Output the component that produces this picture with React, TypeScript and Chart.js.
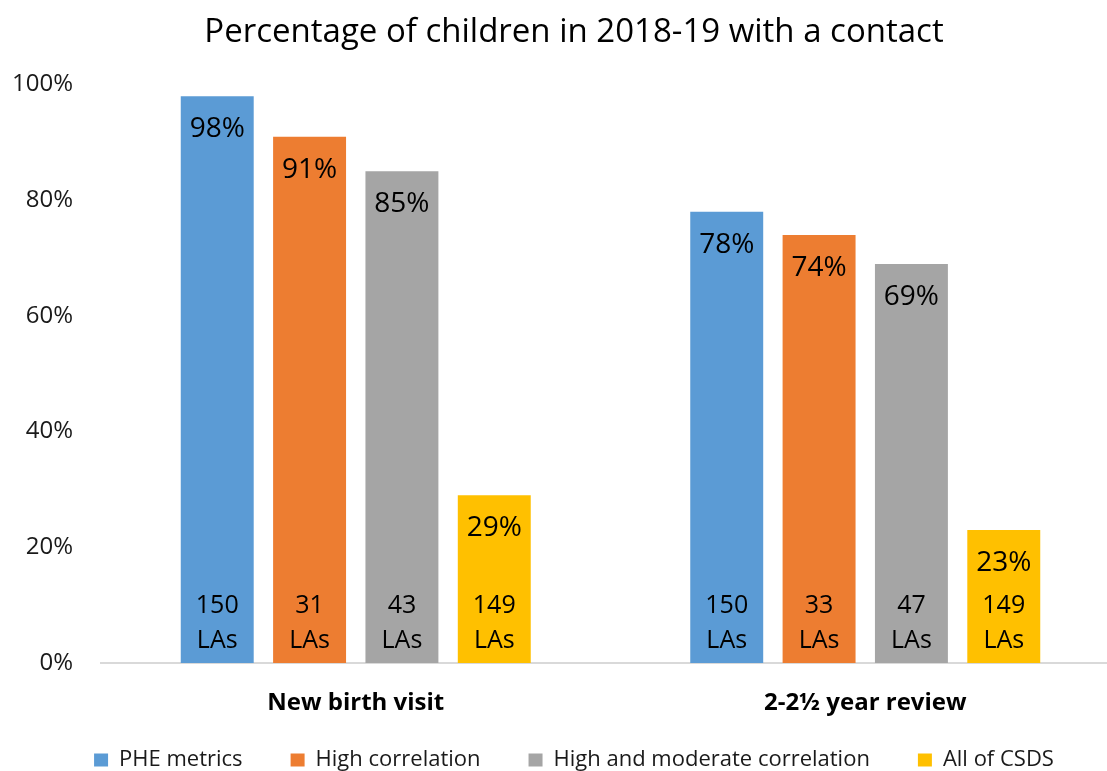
import React, { useEffect, useRef } from 'react';
import { Chart, registerables } from 'chart.js';

Chart.register(...registerables);

const titleText = 'Percentage of children in 2018-19 with a contact';
const categories = ['New birth visit', '2-2½ year review'];
const seriesNames = ['PHE metrics', 'High correlation', 'High and moderate correlation', 'All of CSDS'];
const pheMetrics = [98, 78];
const highCorrelation = [91, 74];
const highModerate = [85, 69];
const allCsds = [29, 23];
const pheLAs = [150, 150];
const highLAs = [31, 33];
const highModLAs = [43, 47];
const allLAs = [149, 149];
const yMin = 0;
const yMax = 100;
const yStep = 20;
const colors = ['#5B9BD5', '#ED7D31', '#A5A5A5', '#FFC000'];

const FONT = '"Open Sans", "DejaVu Sans", sans-serif';

const barLabelPlugin = {
  id: 'barLabels',
  afterDatasetsDraw(chart: any) {
    const ctx = chart.ctx;
    ctx.save();
    ctx.fillStyle = '#000000';
    ctx.textAlign = 'center';
    ctx.textBaseline = 'middle';
    chart.data.datasets.forEach((ds: any, di: number) => {
      const meta = chart.getDatasetMeta(di);
      meta.data.forEach((bar: any, i: number) => {
        const { x, y, base } = bar.getProps(['x', 'y', 'base'], true);
        ctx.font = `28px ${FONT}`;
        ctx.fillText(`${ds.data[i]}%`, x, y + 33);
        ctx.font = `25px ${FONT}`;
        ctx.fillText(String(ds.las[i]), x, base - 57);
        ctx.fillText('LAs', x, base - 22);
      });
    });
    ctx.restore();
  },
};

export default function App() {
  const canvasRef = useRef<HTMLCanvasElement | null>(null);

  useEffect(() => {
    if (!canvasRef.current) return;
    const values = [pheMetrics, highCorrelation, highModerate, allCsds];
    const las = [pheLAs, highLAs, highModLAs, allLAs];
    const chart = new Chart(canvasRef.current, {
      type: 'bar',
      data: {
        labels: categories,
        datasets: seriesNames.map((name, i) => ({
          label: name,
          data: values[i],
          las: las[i],
          backgroundColor: colors[i],
          borderWidth: 0,
          barPercentage: 0.79,
          categoryPercentage: 0.725,
        })) as any,
      },
      options: {
        responsive: false,
        animation: false,
        layout: { padding: { left: 28, right: 28, top: 0, bottom: 0 } },
        plugins: {
          title: {
            display: true,
            text: titleText,
            color: '#000000',
            font: { family: FONT, size: 33, weight: 'normal' },
            padding: { top: 13, bottom: 32 },
          },
          legend: {
            display: true,
            position: 'bottom',
            labels: {
              boxWidth: 14,
              boxHeight: 13,
              padding: 48,
              color: '#1a1a1a',
              font: { family: FONT, size: 22 },
            },
          },
          tooltip: { enabled: false },
        },
        scales: {
          x: {
            grid: { display: false, drawTicks: false },
            border: { display: true, color: '#D9D9D9', width: 2 },
            ticks: {
              color: '#000000',
              font: { family: FONT, size: 24, weight: 'bold' },
              mirror: true,
              padding: -55,
            },
            afterFit: (scale: any) => {
              scale.height = 38;
            },
          },
          y: {
            min: yMin,
            max: yMax,
            grid: { display: false, drawTicks: false },
            border: { display: false },
            ticks: {
              stepSize: yStep,
              color: '#1a1a1a',
              font: { family: FONT, size: 24 },
              mirror: true,
              crossAlign: 'far',
              padding: -89,
              callback: (v: any) => `${v}%`,
            },
            afterFit: (scale: any) => {
              scale.width = 73;
            },
          },
        },
      },
      plugins: [barLabelPlugin],
    });
    return () => chart.destroy();
  }, []);

  return (
    <div
      style={{
        position: 'fixed',
        left: 0,
        top: 0,
        width: 1107,
        height: 771,
        overflow: 'hidden',
        background: '#ffffff',
      }}
    >
      <canvas ref={canvasRef} width={1148} height={781} style={{ display: 'block' }} />
    </div>
  );
}
